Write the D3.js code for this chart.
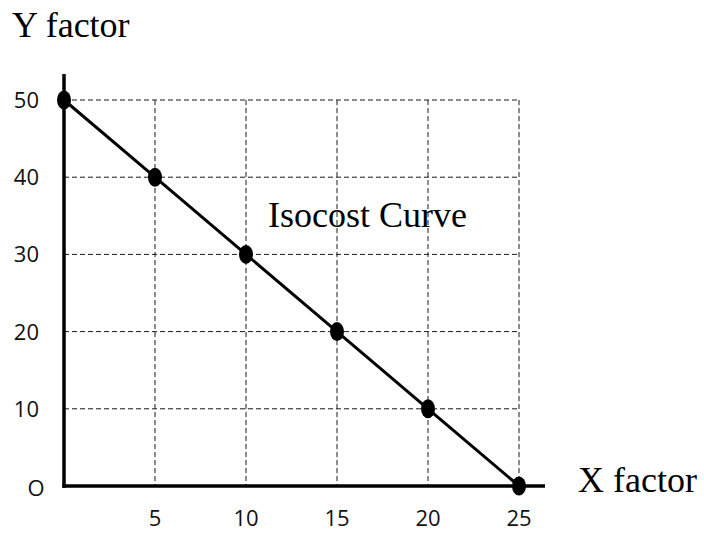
<!DOCTYPE html>
<html>
<head>
<meta charset="utf-8">
<script src="https://cdn.jsdelivr.net/npm/d3@7"></script>
<style>
  html, body { margin: 0; padding: 0; background: #fff; }
  svg { display: block; }
</style>
</head>
<body>
<svg id="chart" width="704" height="533"></svg>
<script>
// Isocost line: combinations of X and Y factors purchasable for the same outlay
const xFactor = [0, 5, 10, 15, 20, 25];
const yFactor = [50, 40, 30, 20, 10, 0];
const xTicks = [5, 10, 15, 20, 25];
const yTicks = [10, 20, 30, 40, 50];
const originLabel = "O";
const xTitle = "X factor";
const yTitle = "Y factor";
const curveLabel = "Isocost Curve";

const svg = d3.select("#chart");

const x = d3.scaleLinear().domain([0, 25]).range([64, 519]);
const y = d3.scaleLinear().domain([0, 50]).range([486, 100]);

const tickFont = "'Open Sans', 'DejaVu Sans', sans-serif";
const titleFont = "'Liberation Serif', 'Times New Roman', serif";

// dashed grid
const grid = svg.append("g")
  .attr("stroke", "#1a1a1a")
  .attr("stroke-width", 1)
  .attr("stroke-dasharray", "5,3")
  .attr("fill", "none");

grid.selectAll("line.v").data(xTicks).join("line")
  .attr("class", "v")
  .attr("x1", d => x(d)).attr("x2", d => x(d))
  .attr("y1", y(50)).attr("y2", y(0));

grid.selectAll("line.h").data(yTicks).join("line")
  .attr("class", "h")
  .attr("x1", x(0)).attr("x2", x(25))
  .attr("y1", d => y(d)).attr("y2", d => y(d));

// axes
svg.append("line")
  .attr("x1", x(0)).attr("x2", x(0))
  .attr("y1", 74).attr("y2", y(0) + 1.75)
  .attr("stroke", "#000").attr("stroke-width", 3.5);

svg.append("line")
  .attr("x1", x(0) - 1.75).attr("x2", 545)
  .attr("y1", y(0)).attr("y2", y(0))
  .attr("stroke", "#000").attr("stroke-width", 3.5);

// tick labels
svg.append("g").selectAll("text").data(yTicks).join("text")
  .attr("x", 39)
  .attr("y", d => y(d))
  .attr("dy", "0.36em")
  .attr("text-anchor", "end")
  .attr("font-family", tickFont)
  .attr("font-size", 22)
  .attr("fill", "#111")
  .text(d => d);

svg.append("g").selectAll("text").data(xTicks).join("text")
  .attr("x", d => x(d))
  .attr("y", 526)
  .attr("text-anchor", "middle")
  .attr("font-family", tickFont)
  .attr("font-size", 22)
  .attr("fill", "#111")
  .text(d => d);

svg.append("text")
  .attr("x", 36).attr("y", y(0) + 2)
  .attr("dy", "0.36em")
  .attr("text-anchor", "middle")
  .attr("font-family", tickFont)
  .attr("font-size", 22)
  .attr("fill", "#111")
  .text(originLabel);

// isocost line and points
const pts = xFactor.map((v, i) => [v, yFactor[i]]);

svg.append("path")
  .datum(pts)
  .attr("fill", "none")
  .attr("stroke", "#000")
  .attr("stroke-width", 3)
  .attr("d", d3.line().x(d => x(d[0])).y(d => y(d[1])));

svg.append("g").selectAll("ellipse").data(pts).join("ellipse")
  .attr("cx", d => x(d[0]))
  .attr("cy", d => y(d[1]))
  .attr("rx", 7)
  .attr("ry", 9.5)
  .attr("fill", "#000");

// titles
svg.append("text")
  .attr("x", 12).attr("y", 37)
  .attr("font-family", titleFont)
  .attr("font-size", 36)
  .attr("fill", "#000")
  .text(yTitle);

svg.append("text")
  .attr("x", 578).attr("y", 492)
  .attr("font-family", titleFont)
  .attr("font-size", 36)
  .attr("fill", "#000")
  .text(xTitle);

svg.append("text")
  .attr("x", 268).attr("y", 227)
  .attr("font-family", titleFont)
  .attr("font-size", 36)
  .attr("fill", "#000")
  .text(curveLabel);
</script>
</body>
</html>
